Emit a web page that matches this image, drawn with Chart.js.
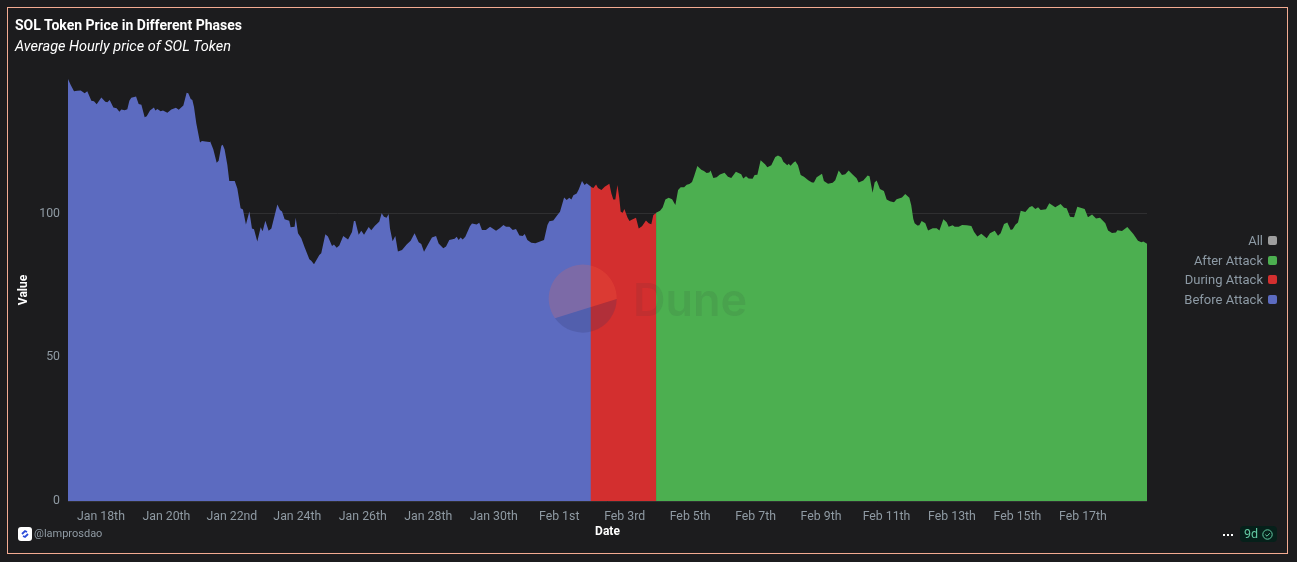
<!DOCTYPE html>
<html>
<head>
<meta charset="utf-8">
<title>SOL Token Price in Different Phases</title>
<script src="https://cdn.jsdelivr.net/npm/chart.js@4"></script>
<style>
  html, body { margin: 0; background: #1c1c1e; overflow: hidden; }
  body { width: 1297px; height: 562px; position: relative; font-family: Roboto, sans-serif; }
  canvas { position: absolute; left: 0; top: 0; }
  .frame { position: absolute; left: 7px; top: 7px; width: 1279px; height: 545px; border: 1px solid #f3ab92; box-sizing: content-box; pointer-events: none; }
  .title { position: absolute; left: 15px; top: 16px; color: #fff; font-size: 14px; font-weight: 700; line-height: 19px; white-space: nowrap; }
  .subtitle { position: absolute; left: 15px; top: 37px; color: #fff; font-size: 14.5px; font-style: italic; line-height: 19px; white-space: nowrap; }
  #legend { position: absolute; right: 20px; top: 231px; text-align: right; }
  #legend div { height: 19.6px; line-height: 19.6px; font-size: 13px; color: #8d9aa5; white-space: nowrap; }
  #legend i { display: inline-block; width: 9px; height: 9px; border-radius: 2px; margin-left: 5px; vertical-align: 0; }
  .owner { position: absolute; left: 34px; top: 526px; font-size: 11px; line-height: 16px; color: #8f9aa3; }
  .logo { position: absolute; left: 18px; top: 527px; }
  .dots { position: absolute; left: 1223px; top: 534px; width: 2px; height: 2px; background: #fff; box-shadow: 4px 0 #fff, 8px 0 #fff; }
  .badge { position: absolute; left: 1240px; top: 526px; width: 37px; height: 16px; border-radius: 4px; background: #06201a; color: #62c9a2; font-size: 12.5px; line-height: 16px; }
  .badge span { position: absolute; left: 4px; top: 0; }
  .badge svg { position: absolute; left: 22px; top: 3px; }
  .mark { position: absolute; left: 0; top: 0; pointer-events: none; }
</style>
</head>
<body>
<canvas id="priceChart" width="1297" height="562"></canvas>
<svg class="mark" width="1297" height="562">
  <path d="M555 318.3 A34 34 0 1 1 616.7 299 Z" fill="rgb(253,107,68)" fill-opacity="0.2"/>
  <path d="M555 318.3 L616.7 299 A34 34 0 0 1 555 318.3 Z" fill="rgb(44,50,100)" fill-opacity="0.2"/>
  <text x="633" y="316" font-family="Inter, sans-serif" font-size="45" font-weight="600" fill="rgb(50,50,60)" fill-opacity="0.1">Dune</text>
</svg>
<div class="frame"></div>
<div class="title">SOL Token Price in Different Phases</div>
<div class="subtitle">Average Hourly price of SOL Token</div>
<div id="legend"></div>
<svg class="logo" width="14" height="14">
  <rect width="14" height="14" rx="3" fill="#fff"/>
  <path d="M4 7 L7 4 L9 5 M10 7 L7 10 L5 9" fill="none" stroke="#2b4bd8" stroke-width="1.8"/>
</svg>
<div class="owner">@lamprosdao</div>
<div class="dots"></div>
<div class="badge"><span>9d</span>
  <svg width="11" height="11"><circle cx="5.5" cy="5.5" r="4.7" fill="none" stroke="#62c9a2"/><path d="M3.3 5.6 L5 7.2 L7.8 4.2" fill="none" stroke="#62c9a2"/></svg>
</div>
<script>
/* values; hours counted from the left edge of the plot */
const beforeHours = [0,2,4.4,6.8,9.3,12.2,14.1,17.1,19,21,24.4,27.3,28.8,30.5,33.2,35.6,37.6,39,41.5,43.4,44.9,46.3,49.8,51.7,53.7,56.1,57.6,60,62.9,63.9,65.4,67.8,69.5,72.7,75.6,79,81,84.4,86.8,88,89.8,91,92.2,93.9,96.6,98,100.5,103.4,103.9,106.3,108.8,110.2,112.2,113.2,114.6,116.6,118,122,123.9,126.3,128,130.2,132.7,134.6,136.1,138.5,141,142.4,144.4,146.8,148.8,153.2,155.1,156.6,158.5,161.9,162.9,165.8,166.6,168.3,170.7,173.2,176.6,178,180,183.9,185.3,188.3,190.2,193.2,194.6,196.6,198.5,201.4,204.9,207.8,209.2,210.2,212.7,214.6,216.6,220,221.9,224.4,227.8,229.5,231.2,233.1,234.6,235.6,237.5,239.5,241.4,244.4,247.8,250.7,253.6,256.6,258.5,260.5,263.4,266.3,269.3,271.2,274.6,276.6,279,282.9,284.4,285.8,287.3,288.8,290.7,294.1,295.6,299,300.9,302.9,305.8,308.8,313.2,316.1,318.6,320.5,323,325.4,327.8,330.3,332.7,334.2,336.1,339,342,345.4,348.3,350.8,352.2,355.1,358.1,360,363,364.9,366.8,368.3,369.8,372.2,373.7,376.1,378,379.5,382.7];
const beforeValues = [146.8,144.7,142.5,142.7,142.8,141.8,142.5,139.2,139.1,138,140.4,138.9,138.7,139.5,136.9,136.6,135.4,136.2,135.9,136.3,139.2,140.3,140.7,138.1,137.8,133.5,133.8,135.8,136.9,135.8,136.4,135.6,135.8,135.1,136.2,136.8,136.1,137.6,142,141.8,139.8,139.5,137.1,131.3,124.7,125.2,125.1,124.9,125.2,122.4,117.7,118.4,123.6,123.9,122.3,116.9,111.3,111.3,108.7,101.8,101.4,96.2,100.7,94.8,94.5,90.3,95.2,93.8,97.5,94,94.8,103.1,101.2,100.7,98,97.5,95.2,95.4,98.5,93.1,91.4,88.2,84.1,83.6,82.4,85.6,86.2,92.8,92,88.7,89.2,88.1,88.9,92.2,91,93.6,97.4,97.4,92.6,94,92.6,95.3,94.2,95.7,97.2,100.1,98.9,98.5,99.8,94.8,90.4,92.2,86.8,87.3,89.2,90.5,93.1,90,89.4,86.7,89.2,91.7,92.2,89.6,87.9,88.5,90.8,91.2,91.9,90.8,91.7,91,91.9,95.6,96.5,96.2,96.8,94.3,94.3,95.4,94,95,96,95.4,95.4,94.3,94.6,92.4,92.2,92.9,90.8,89.8,89.7,90.3,90.8,96,97.3,97.6,99.5,100.6,105.6,104.7,105.5,104.9,106.4,107,108.4,111.3,109.9,110.5,109.3];

const duringHours = [382.3,384.4,386.4,387.8,390.3,392.7,396.1,397.6,399,400.5,402,403.4,404.4,405.9,407.1,409.3,410.8,413.2,415.6,417.6,420,422.9,424.9,426.8,428.3,430.7];
const duringValues = [109.3,108.9,110.1,108.9,108.2,109.3,110.4,107,104.9,104.9,109.9,105.3,100.6,100.3,101.6,98.7,97.4,98,98.5,94.8,95.6,97.6,96.6,96.3,99.5,100.3];

const afterHours = [430.3,433.2,435.1,437.1,439.5,442,444.4,446.4,448.3,450.8,452.7,454.7,456.6,458.1,460.5,463.4,465.3,467.3,469.2,470.2,472.2,474.6,477,480.4,482.9,485.3,488.7,492.6,494.1,496.1,498,500.9,502.4,504.4,506.8,510.2,511.7,514.6,517.5,519.5,521.9,523.4,526.3,527.3,528.7,530.7,532.2,534.1,536.1,538.5,541.9,544.4,545.8,547.8,551.7,553.1,556.1,559.5,561.4,563.9,566.3,568.7,571.2,574.1,577,578.5,581.9,585.1,586.5,588.7,590.2,591.7,594.1,597,599,601.4,604.4,606.3,610.2,612.6,615.6,617,618.5,619.5,621.5,622.9,624.6,627.3,629.3,632.7,635.6,637.6,640.5,642.9,644.4,647.3,648.8,651.7,654.2,657.6,661,662.9,665.4,668.3,672.2,674.6,678.1,680.5,682.4,684.9,687.3,689.8,691.2,693.2,695.1,697.1,700.5,703.4,705.4,707.8,709.8,711.7,715.6,718,722.4,726.3,728.8,730.7,733.2,736.1,738.5,743.9,746.3,749.3,752.2,755.1,759,761,763.9,766.8,767.8,771.2,775.1,779.5,782.9,785.4,786.8,789.5];
const afterValues = [100.3,101,102.1,104.9,105.5,105,103,108.2,109.1,109.1,110,110.3,111,113,116.5,115.2,114.8,114.1,114.3,115,112.4,112.6,113.6,114.2,112.8,112.4,114.5,113.7,112.2,113,112.2,112.1,113.4,113.5,118.5,117.1,116.1,116.8,119.7,120.2,119.6,118,116.8,117.3,116.6,117.7,118.2,116.8,113.4,112.8,111.5,110.8,110.8,112.6,113.8,111.3,110.4,110.7,111.6,115,113.4,113.7,115,113.6,112.3,110.8,111.5,113.2,113,107.2,110.8,111.5,108.5,107.8,104.9,104.3,103.9,105,105.6,106.8,105.5,102.9,98.1,96.6,95.8,95.9,97.4,96.6,94.1,94.9,94.9,94.1,98,97,95.4,95.9,95.4,95.4,96,95.9,95.7,93.7,92,93,91.4,93.1,94,92.3,93.1,96.4,96.9,94.3,94.5,96.1,96.9,101,100.5,102.2,102.6,101.6,102.2,101.2,101.5,103.6,102.2,103.3,102,101.8,98.9,98.7,102.4,101.6,98.7,99.7,98.3,98.5,96.6,94.1,93.2,93.4,94.2,93.9,95.3,92.9,90.5,90,90.3,89.5];

const tickLabels = ["Jan 18th","Jan 20th","Jan 22nd","Jan 24th","Jan 26th","Jan 28th","Jan 30th","Feb 1st","Feb 3rd","Feb 5th","Feb 7th","Feb 9th","Feb 11th","Feb 13th","Feb 15th","Feb 17th"];
const firstTickHour = 24.1;
const tickStepHours = 47.9;
const valueTicks = [0, 50, 100];

const seriesNames = ["All", "After Attack", "During Attack", "Before Attack"];
const seriesColors = ["#9e9e9e", "#4caf50", "#d32f2f", "#5c6bc0"];

const toPoints = (xs, ys) => xs.map((x, i) => ({ x, y: ys[i] }));
const seriesData = [[], toPoints(afterHours, afterValues), toPoints(duringHours, duringValues), toPoints(beforeHours, beforeValues)];

const axisColor = "#8f9aa3";
const axisFont = { family: "Roboto, sans-serif", size: 12.3 };
const titleFont = { family: "Roboto, sans-serif", size: 12, weight: "bold" };

const chart = new Chart(document.getElementById("priceChart"), {
  type: "line",
  data: {
    datasets: seriesNames.map((name, i) => ({
      label: name,
      data: seriesData[i],
      backgroundColor: seriesColors[i],
      borderWidth: 0,
      pointRadius: 0,
      tension: 0,
      fill: "origin"
    }))
  },
  options: {
    responsive: false,
    animation: false,
    layout: { padding: { top: 79, right: 150, left: 0, bottom: 0 } },
    plugins: { legend: { display: false }, title: { display: false }, tooltip: { enabled: false } },
    scales: {
      x: {
        type: "linear",
        min: 0,
        max: 789.5,
        grid: { display: false },
        border: { display: false },
        title: { display: true, text: "Date", color: "#fff", font: titleFont, padding: { top: 0, bottom: 23 } },
        afterBuildTicks: s => { s.ticks = tickLabels.map((_, i) => ({ value: firstTickHour + i * tickStepHours })); },
        afterFit: s => { s.height = 61; },
        ticks: {
          color: axisColor,
          font: axisFont,
          padding: 1,
          autoSkip: false,
          maxRotation: 0,
          callback: (v, i) => tickLabels[i]
        }
      },
      y: {
        min: 0,
        max: 146.8,
        grid: { color: "#2f2f31", drawTicks: false },
        border: { display: false },
        title: { display: true, text: "Value", color: "#fff", font: titleFont, padding: { top: 17, bottom: 0 } },
        afterBuildTicks: s => { s.ticks = valueTicks.map(value => ({ value })); },
        afterFit: s => { s.width = 68; },
        ticks: { color: axisColor, font: axisFont, padding: 8 }
      }
    }
  }
});

/* legend on the right, built from the chart's own datasets */
const legend = document.getElementById("legend");
chart.data.datasets.forEach(ds => {
  const row = document.createElement("div");
  row.innerHTML = `${ds.label}<i style="background:${ds.backgroundColor}"></i>`;
  legend.appendChild(row);
});
</script>
</body>
</html>
